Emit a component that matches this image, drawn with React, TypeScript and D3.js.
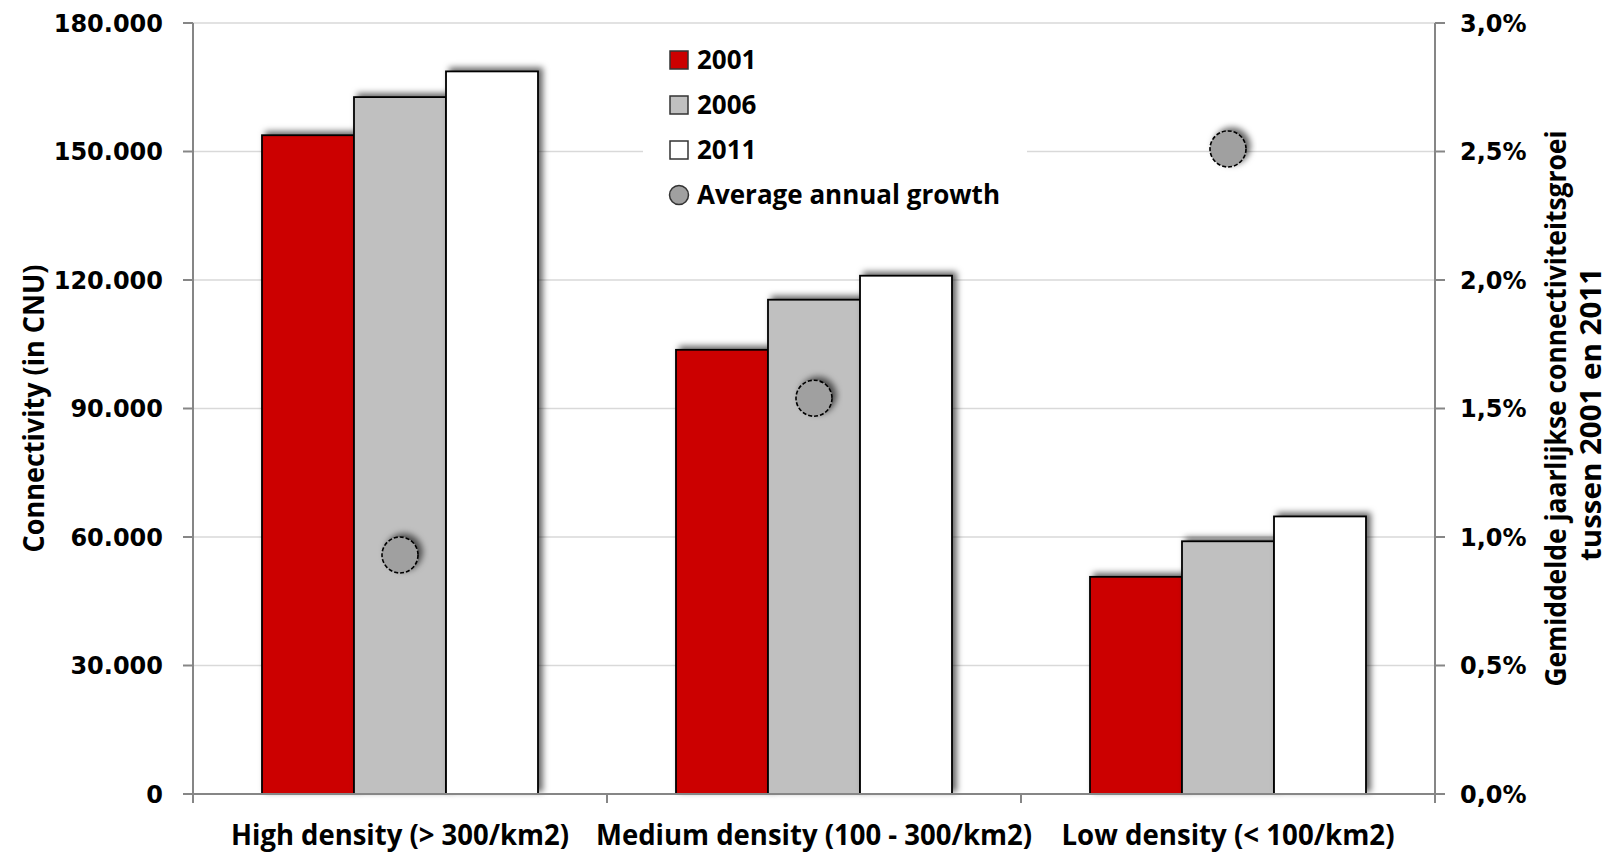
import React from "react";
import * as d3 from "d3";

const categories = ["High density (> 300/km2)", "Medium density (100 - 300/km2)", "Low density (< 100/km2)"];
const years = ["2001", "2006", "2011"];
const values2001 = [153800, 103700, 50700];
const values2006 = [162700, 115400, 59000];
const values2011 = [168700, 121000, 64800];
const growth = [0.93, 1.54, 2.51]; // % per year
const leftTicks = [0, 30000, 60000, 90000, 120000, 150000, 180000];
const rightTicks = [0, 0.5, 1.0, 1.5, 2.0, 2.5, 3.0];
const yearColors = ["#cc0000", "#c0c0c0", "#ffffff"];
// measured text widths of the condensed labels in the original
const catLabelWidths = [338, 436, 333];

const W = 1610;
const H = 852;
const margin = { left: 193, right: 175, top: 23, bottom: 58 };

const locale = d3.formatLocale({ decimal: ",", thousands: ".", grouping: [3], currency: ["€", ""] });
const fmtLeft = locale.format(",.0f");
const fmtRight = (v: number) => locale.format(".1f")(v) + "%";

export default function App() {
  const x0 = margin.left;
  const x1 = W - margin.right;
  const yTop = margin.top;
  const yBot = H - margin.bottom; // zero line

  const xCat = d3.scaleBand<string>().domain(categories).range([x0, x1]).paddingInner(1 / 3).paddingOuter(1 / 6);
  const xYear = d3.scaleBand<string>().domain(years).range([0, xCat.bandwidth()]);
  const yLeft = d3.scaleLinear().domain([0, 180000]).range([yBot, yTop]);
  const yRight = d3.scaleLinear().domain([0, 3]).range([yBot, yTop]);

  const series = [values2001, values2006, values2011];
  const step = xCat.step();
  const catTicks = d3.range(categories.length + 1).map((i) => x0 + i * step);
  const midY = (yTop + yBot) / 2;

  const labelFont = "'Open Sans', sans-serif";
  const tickFont = "'DejaVu Sans', Verdana, sans-serif";

  return (
    <svg width={W} height={H} style={{ position: "absolute", left: 0, top: 0, background: "#fff" }}>
      <defs>
        <filter id="shadow" x="-30%" y="-30%" width="160%" height="160%">
          <feDropShadow dx="4" dy="-3" stdDeviation="3" floodColor="#000" floodOpacity="0.6" />
        </filter>
      </defs>

      {/* gridlines */}
      {leftTicks.slice(1).map((t) => (
        <line key={t} x1={x0} x2={x1} y1={yLeft(t)} y2={yLeft(t)} stroke="#d9d9d9" strokeWidth={1.5} />
      ))}

      {/* legend background hides gridlines */}
      <rect x={643} y={36} width={384} height={180} fill="#fff" />

      {/* axes */}
      <line x1={x0} x2={x0} y1={yTop} y2={yBot} stroke="#868686" strokeWidth={2} />
      <line x1={x1} x2={x1} y1={yTop} y2={yBot} stroke="#868686" strokeWidth={2} />
      {leftTicks.map((t) => (
        <line key={t} x1={x0 - 10} x2={x0} y1={yLeft(t)} y2={yLeft(t)} stroke="#868686" strokeWidth={2} />
      ))}
      {rightTicks.map((t) => (
        <line key={t} x1={x1} x2={x1 + 10} y1={yRight(t)} y2={yRight(t)} stroke="#868686" strokeWidth={2} />
      ))}
      {catTicks.map((t, i) => (
        <line key={i} x1={t} x2={t} y1={yBot} y2={yBot + 9} stroke="#868686" strokeWidth={2} />
      ))}

      {/* bars */}
      {categories.map((c, ci) => (
        <g key={c}>
          {years.map((yr, yi) => {
            const v = series[yi][ci];
            const bx = (xCat(c) ?? 0) + (xYear(yr) ?? 0);
            return (
              <rect
                key={yr}
                x={bx}
                y={yLeft(v)}
                width={xYear.bandwidth()}
                height={yBot - yLeft(v)}
                fill={yearColors[yi]}
                stroke="#000"
                strokeWidth={1.8}
                filter="url(#shadow)"
              />
            );
          })}
        </g>
      ))}

      <line x1={x0} x2={x1} y1={yBot} y2={yBot} stroke="#868686" strokeWidth={2} />

      {/* growth dots */}
      {categories.map((c, ci) => (
        <circle
          key={c}
          cx={(xCat(c) ?? 0) + xCat.bandwidth() / 2}
          cy={yRight(growth[ci])}
          r={18}
          fill="#a0a0a0"
          stroke="#000"
          strokeWidth={1.6}
          strokeDasharray="4 2"
          filter="url(#shadow)"
        />
      ))}

      {/* left tick labels */}
      {leftTicks.map((t) => (
        <text key={t} x={163} y={yLeft(t)} dy="0.36em" textAnchor="end" fontFamily={tickFont} fontWeight="bold" fontSize={24} fill="#000">
          {fmtLeft(t)}
        </text>
      ))}
      {/* right tick labels */}
      {rightTicks.map((t) => (
        <text key={t} x={1460} y={yRight(t)} dy="0.36em" textAnchor="start" fontFamily={tickFont} fontWeight="bold" fontSize={24} fill="#000">
          {fmtRight(t)}
        </text>
      ))}

      {/* category labels */}
      {categories.map((c, ci) => (
        <text
          key={c}
          x={(xCat(c) ?? 0) + xCat.bandwidth() / 2}
          y={845}
          textAnchor="middle"
          fontFamily={labelFont}
          fontWeight="bold"
          fontSize={28}
          textLength={catLabelWidths[ci]}
          lengthAdjust="spacingAndGlyphs"
          fill="#000"
        >
          {c}
        </text>
      ))}

      {/* axis titles */}
      <text
        transform={`translate(44, ${midY}) rotate(-90)`}
        textAnchor="middle"
        fontFamily={labelFont}
        fontWeight="bold"
        fontSize={28}
        textLength={288}
        lengthAdjust="spacingAndGlyphs"
        fill="#000"
      >
        Connectivity (in CNU)
      </text>
      <text
        transform={`translate(1566, ${midY}) rotate(-90)`}
        textAnchor="middle"
        fontFamily={labelFont}
        fontWeight="bold"
        fontSize={28}
        textLength={556}
        lengthAdjust="spacingAndGlyphs"
        fill="#000"
      >
        Gemiddelde jaarlijkse connectiviteitsgroei
      </text>
      <text
        transform={`translate(1601, ${midY + 6}) rotate(-90)`}
        textAnchor="middle"
        fontFamily={labelFont}
        fontWeight="bold"
        fontSize={28}
        textLength={293}
        lengthAdjust="spacingAndGlyphs"
        fill="#000"
      >
        tussen 2001 en 2011
      </text>

      {/* legend */}
      {years.map((yr, i) => (
        <g key={yr} transform={`translate(670, ${60 + i * 45})`}>
          <rect x={0} y={-9} width={18} height={18} fill={yearColors[i]} stroke="#333" strokeWidth={1.5} />
          <text x={27} y={0} dy="0.36em" fontFamily="'Open Sans', sans-serif" fontWeight="bold" fontSize={26} fill="#000">
            {yr}
          </text>
        </g>
      ))}
      <g transform={`translate(670, ${60 + 3 * 45})`}>
        <circle cx={9} cy={0} r={9.5} fill="#a0a0a0" stroke="#333" strokeWidth={1.5} />
        <text x={27} y={0} dy="0.36em" fontFamily="'Open Sans', sans-serif" fontWeight="bold" fontSize={26} fill="#000">
          Average annual growth
        </text>
      </g>
    </svg>
  );
}
